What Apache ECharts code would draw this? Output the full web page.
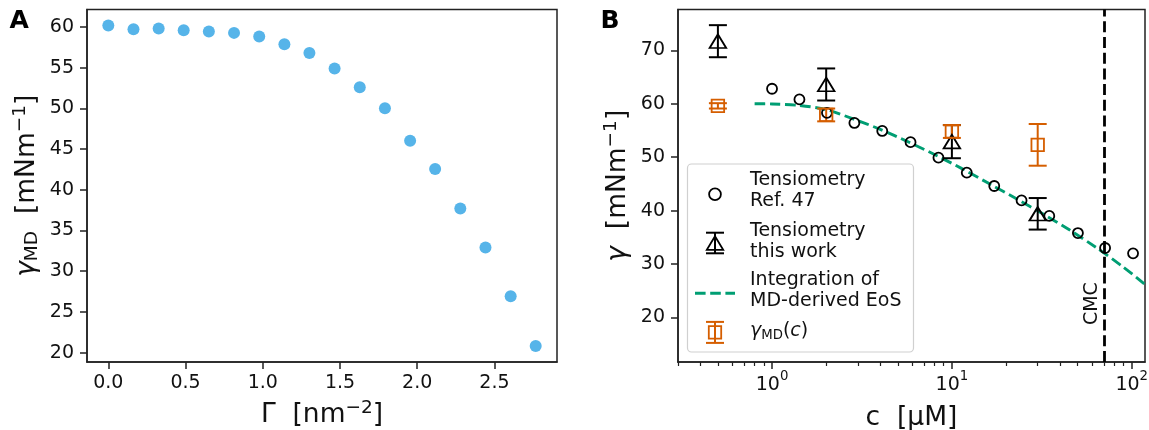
<!DOCTYPE html>
<html>
<head>
<meta charset="utf-8">
<script src="https://cdn.jsdelivr.net/npm/echarts@6/dist/echarts.min.js"></script>
<style>
  html, body { margin: 0; padding: 0; background: #fff; }
  #chart { width: 1149px; height: 430px; }
</style>
</head>
<body>
<div id="chart"></div>
<script>
// panel A: gamma_MD vs surface coverage
const gammaA = [0, 0.163, 0.326, 0.488, 0.651, 0.814, 0.977, 1.140, 1.302, 1.465, 1.628, 1.791, 1.954, 2.116, 2.279, 2.442, 2.605, 2.767];
const tensionA = [60.16, 59.71, 59.80, 59.59, 59.43, 59.26, 58.81, 57.87, 56.80, 54.88, 52.58, 50.00, 46.02, 42.54, 37.70, 32.91, 26.93, 20.82];
const ticksAx = [0, 0.5, 1, 1.5, 2, 2.5];
const ticksAy = [20, 25, 30, 35, 40, 45, 50, 55, 60];

// panel B: tension vs concentration
const refC = [1.0, 1.42, 2.02, 2.87, 4.10, 5.89, 8.42, 12.1, 17.2, 24.4, 34.8, 50.2, 71.1, 101.7];
const refY = [62.8, 60.8, 58.3, 56.4, 54.9, 52.8, 49.9, 47.1, 44.6, 41.9, 39.0, 35.8, 33.0, 32.0];
const workC = [0.5, 2, 10, 30];
const workY = [71.7, 63.6, 52.9, 39.4];
const workErr = [3.0, 3.0, 3.1, 2.95];
const mdC = [0.5, 2, 10, 30];
const mdY = [59.6, 57.9, 54.8, 52.3];
const mdErr = [0.5, 1.2, 1.2, 3.9];
const eosC = [0.8, 1.0, 1.4, 2.0, 2.8, 4.0, 5.6, 8.0, 11.3, 16, 22.6, 32, 45, 64, 90, 118.5];
const eosY = [60.0, 59.95, 59.7, 58.9, 57.2, 55.2, 53.0, 50.5, 47.9, 45.1, 42.3, 39.4, 36.4, 33.0, 29.4, 26.2];
const cmcC = 70;
const cmcLabelY = 22.5;
const ticksBx = [1, 10, 100];
const minorBx = [0.3, 0.4, 0.5, 0.6, 0.7, 0.8, 0.9, 2, 3, 4, 5, 6, 7, 8, 9, 20, 30, 40, 50, 60, 70, 80, 90];
const ticksBy = [20, 30, 40, 50, 60, 70];

const FONT = 'DejaVu Sans';
const INK = '#111';
const FRAME = '#222';
const BLUE = '#56B4E9', GREEN = '#009E73', ORANGE = '#D55E00';

const zip = (a, b, c) => a.map((v, i) => c ? [v, b[i], c[i]] : [v, b[i]]);

const titleRich = {
  a: { fontSize: 26.5, fontFamily: FONT, color: INK, height: 30, lineHeight: 30 },
  g: { fontSize: 26.5, fontFamily: FONT, color: INK, fontStyle: 'italic', height: 30, lineHeight: 30 },
  sup: { fontSize: 18.5, fontFamily: FONT, color: INK, height: 16.2, lineHeight: 16.2, verticalAlign: 'top' },
  sub: { fontSize: 18.5, fontFamily: FONT, color: INK, height: 18.8, lineHeight: 18.8, verticalAlign: 'bottom' }
};

const frameLine = { show: true, onZero: false, lineStyle: { color: FRAME, width: 1.5 } };
const majorTick = (vals) => ({ show: true, inside: false, length: 7, lineStyle: { color: FRAME, width: 1.5 }, customValues: vals });
const tickLabel = (margin) => ({
  fontSize: 19, fontFamily: FONT, color: INK, margin: margin, lineHeight: 22
});

function errorBars(color) {
  return function (params, api) {
    const x = api.value(0), y = api.value(1), e = api.value(2);
    const hi = api.coord([x, y + e]);
    const lo = api.coord([x, y - e]);
    const cap = 9;
    const style = { stroke: color, lineWidth: 2, fill: null };
    return {
      type: 'group',
      children: [
        { type: 'line', shape: { x1: hi[0], y1: hi[1], x2: lo[0], y2: lo[1] }, style: style },
        { type: 'line', shape: { x1: hi[0] - cap, y1: hi[1], x2: hi[0] + cap, y2: hi[1] }, style: style },
        { type: 'line', shape: { x1: lo[0] - cap, y1: lo[1], x2: lo[0] + cap, y2: lo[1] }, style: style }
      ]
    };
  };
}

const chart = echarts.init(document.getElementById('chart'), null, { renderer: 'canvas' });

const legendX = 715;
const legendText = { fill: INK, fontSize: 19, fontFamily: FONT, align: 'left', verticalAlign: 'middle', lineHeight: 21 };

const option = {
  animation: false,
  backgroundColor: '#fff',
  textStyle: { fontFamily: FONT },
  grid: [
    { left: 87, top: 9.5, width: 470, height: 352.5, show: true, borderColor: FRAME, borderWidth: 1.5, backgroundColor: 'transparent', outerBoundsMode: 'none' },
    { left: 678, top: 9.5, width: 467, height: 352.5, show: true, borderColor: FRAME, borderWidth: 1.5, backgroundColor: 'transparent', outerBoundsMode: 'none' }
  ],
  xAxis: [
    {
      gridIndex: 0, type: 'value', position: 'bottom', min: -0.138, max: 2.905,
      axisLine: frameLine, splitLine: { show: false },
      axisTick: majorTick(ticksAx),
      axisLabel: Object.assign(tickLabel(10), { customValues: ticksAx, formatter: v => v.toFixed(1) }),
      name: '{a|Γ  [nm}{sup|−2}{a|]}', nameLocation: 'middle', nameGap: 38, nameMoveOverlap: false,
      nameTextStyle: { rich: titleRich }
    },
    {
      gridIndex: 1, type: 'log', logBase: 10, position: 'bottom', min: 0.3, max: 118.5,
      axisLine: frameLine, splitLine: { show: false },
      axisTick: majorTick(ticksBx),
      axisLabel: Object.assign(tickLabel(12), {
        customValues: ticksBx,
        formatter: v => '{b|10}{s|' + Math.round(Math.log10(v)) + '}',
        rich: {
          b: { fontSize: 19, fontFamily: FONT, color: INK, height: 22, lineHeight: 22 },
          s: { fontSize: 13.3, fontFamily: FONT, color: INK, height: 5.4, lineHeight: 5.4, verticalAlign: 'top' }
        }
      }),
      name: '{a|c  [μM]}', nameLocation: 'middle', nameGap: 41, nameMoveOverlap: false,
      nameTextStyle: { rich: titleRich }
    },
    {
      // minor ticks of the log axis
      gridIndex: 1, type: 'log', logBase: 10, position: 'bottom', offset: 0, min: 0.3, max: 118.5,
      axisLine: { show: false, onZero: false }, splitLine: { show: false },
      axisTick: { show: true, inside: false, length: 4, lineStyle: { color: FRAME, width: 1.2 }, customValues: minorBx },
      axisLabel: { show: false }
    }
  ],
  yAxis: [
    {
      gridIndex: 0, type: 'value', position: 'left', min: 18.85, max: 62.13,
      axisLine: frameLine, splitLine: { show: false },
      axisTick: majorTick(ticksAy),
      axisLabel: Object.assign(tickLabel(13), { customValues: ticksAy }),
      name: '{g|γ}{sub|MD}{a|  [mNm}{sup|−1}{a|]}', nameLocation: 'middle', nameGap: 45, nameMoveOverlap: false,
      nameTextStyle: { rich: titleRich }
    },
    {
      gridIndex: 1, type: 'value', position: 'left', min: 11.67, max: 77.63,
      axisLine: frameLine, splitLine: { show: false },
      axisTick: majorTick(ticksBy),
      axisLabel: Object.assign(tickLabel(13), { customValues: ticksBy }),
      name: '{g|γ}{a|  [mNm}{sup|−1}{a|]}', nameLocation: 'middle', nameGap: 45, nameMoveOverlap: false,
      nameTextStyle: { rich: titleRich }
    }
  ],
  series: [
    {
      name: 'gammaMD', type: 'scatter', xAxisIndex: 0, yAxisIndex: 0,
      data: zip(gammaA, tensionA), symbolSize: 12,
      itemStyle: { color: BLUE, opacity: 1 }
    },
    {
      name: 'Integration of MD-derived EoS', type: 'line', xAxisIndex: 1, yAxisIndex: 1,
      data: zip(eosC, eosY), showSymbol: false, smooth: 0.3, z: 2,
      lineStyle: { color: GREEN, width: 2.9, type: [10.6, 4.6] }
    },
    {
      name: 'Tensiometry Ref. 47', type: 'scatter', xAxisIndex: 1, yAxisIndex: 1,
      data: zip(refC, refY), symbol: 'circle', symbolSize: 10, z: 5,
      itemStyle: { color: 'rgba(0,0,0,0)', borderColor: '#000', borderWidth: 1.8, opacity: 1 }
    },
    {
      name: 'work errors', type: 'custom', xAxisIndex: 1, yAxisIndex: 1,
      data: zip(workC, workY, workErr), encode: { x: 0, y: 1 }, z: 3,
      renderItem: errorBars('#000')
    },
    {
      name: 'Tensiometry this work', type: 'scatter', xAxisIndex: 1, yAxisIndex: 1,
      data: zip(workC, workY), symbol: 'triangle', symbolSize: [16.5, 13.5], z: 5,
      itemStyle: { color: 'rgba(0,0,0,0)', borderColor: '#000', borderWidth: 1.8, opacity: 1 }
    },
    {
      name: 'md errors', type: 'custom', xAxisIndex: 1, yAxisIndex: 1,
      data: zip(mdC, mdY, mdErr), encode: { x: 0, y: 1 }, z: 3,
      renderItem: errorBars(ORANGE)
    },
    {
      name: 'gammaMD(c)', type: 'scatter', xAxisIndex: 1, yAxisIndex: 1,
      data: zip(mdC, mdY), symbol: 'rect', symbolSize: 12.5, z: 5,
      itemStyle: { color: 'rgba(0,0,0,0)', borderColor: ORANGE, borderWidth: 1.8, opacity: 1 }
    },
    {
      name: 'CMC', type: 'scatter', xAxisIndex: 1, yAxisIndex: 1,
      data: [[cmcC, cmcLabelY]], symbolSize: 1, z: 6,
      itemStyle: { color: 'rgba(0,0,0,0)' },
      label: {
        show: true, formatter: 'CMC', position: [0, 0], rotate: 90,
        align: 'center', verticalAlign: 'bottom', lineHeight: 22,
        fontSize: 19, fontFamily: FONT, color: INK, opacity: 1,
        textBorderWidth: 0
      },
      markLine: {
        silent: true, symbol: 'none', label: { show: false },
        lineStyle: { color: '#000', width: 2.8, type: [11, 4.7] },
        data: [{ xAxis: cmcC }]
      }
    }
  ],
  graphic: [
    { type: 'text', left: 9.5, top: 9, style: { text: 'A', fill: '#000', fontSize: 25, fontWeight: 'bold', fontFamily: FONT } },
    { type: 'text', left: 600.5, top: 9, style: { text: 'B', fill: '#000', fontSize: 25, fontWeight: 'bold', fontFamily: FONT } },
    {
      type: 'group', z: 100,
      children: [
        { type: 'rect', shape: { x: 687.5, y: 164, width: 226, height: 188, r: 4 },
          style: { fill: 'rgba(255,255,255,0.8)', stroke: '#d0d0d0', lineWidth: 1.2 } },
        // circle
        { type: 'circle', shape: { cx: legendX, cy: 194.3, r: 5.9 }, style: { fill: null, stroke: '#000', lineWidth: 1.8 } },
        { type: 'text', style: Object.assign({ text: 'Tensiometry\nRef. 47', x: 750, y: 190.6 }, legendText) },
        // triangle with error bar
        { type: 'line', shape: { x1: legendX, y1: 232.7, x2: legendX, y2: 253.3 }, style: { stroke: '#000', lineWidth: 2 } },
        { type: 'line', shape: { x1: legendX - 9, y1: 232.7, x2: legendX + 9, y2: 232.7 }, style: { stroke: '#000', lineWidth: 2 } },
        { type: 'line', shape: { x1: legendX - 9, y1: 253.3, x2: legendX + 9, y2: 253.3 }, style: { stroke: '#000', lineWidth: 2 } },
        { type: 'polygon', shape: { points: [[legendX, 236.3], [legendX - 8.2, 249.8], [legendX + 8.2, 249.8]] },
          style: { fill: null, stroke: '#000', lineWidth: 1.8 } },
        { type: 'text', style: Object.assign({ text: 'Tensiometry\nthis work', x: 750, y: 241.2 }, legendText) },
        // dashed line
        { type: 'line', shape: { x1: 695, y1: 293.3, x2: 735, y2: 293.3 }, style: { stroke: GREEN, lineWidth: 2.9, lineDash: [10.6, 4.6] } },
        { type: 'text', style: Object.assign({ text: 'Integration of\nMD-derived EoS', x: 750, y: 291 }, legendText) },
        // square with error bar
        { type: 'line', shape: { x1: legendX, y1: 321.9, x2: legendX, y2: 342.9 }, style: { stroke: ORANGE, lineWidth: 2 } },
        { type: 'line', shape: { x1: legendX - 9, y1: 321.9, x2: legendX + 9, y2: 321.9 }, style: { stroke: ORANGE, lineWidth: 2 } },
        { type: 'line', shape: { x1: legendX - 9, y1: 342.9, x2: legendX + 9, y2: 342.9 }, style: { stroke: ORANGE, lineWidth: 2 } },
        { type: 'rect', shape: { x: legendX - 6.2, y: 326.2, width: 12.4, height: 12.4 }, style: { fill: null, stroke: ORANGE, lineWidth: 1.8 } },
        { type: 'text', style: {
            text: '{g|γ}{s|MD}{n|(}{g|c}{n|)}', x: 750, y: 331.3, align: 'left', verticalAlign: 'middle',
            rich: {
              g: { fontSize: 19, fontFamily: FONT, fill: INK, fontStyle: 'italic', height: 22, lineHeight: 22 },
              n: { fontSize: 19, fontFamily: FONT, fill: INK, height: 22, lineHeight: 22 },
              s: { fontSize: 13.3, fontFamily: FONT, fill: INK, height: 14, lineHeight: 14, verticalAlign: 'bottom' }
            }
          } }
      ]
    }
  ]
};

chart.setOption(option);
</script>
</body>
</html>
